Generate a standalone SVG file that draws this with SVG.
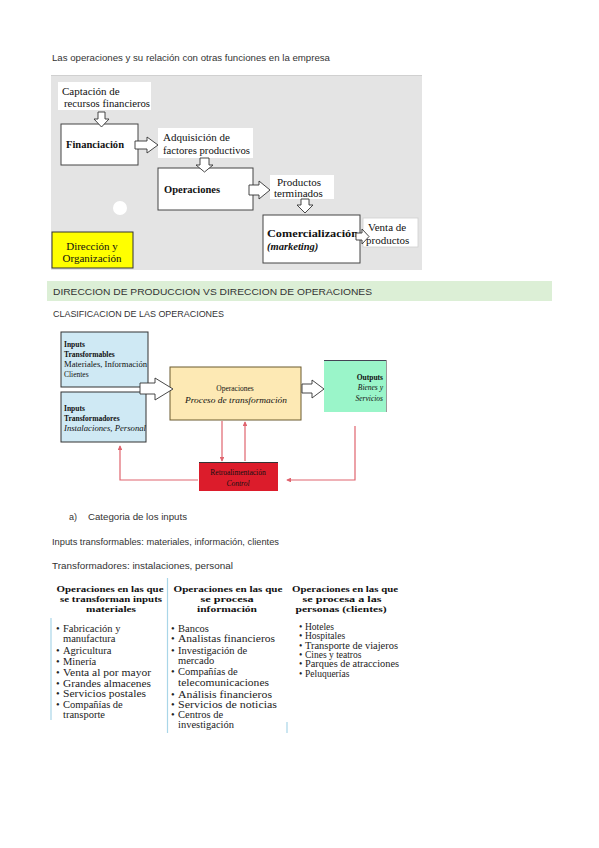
<svg xmlns="http://www.w3.org/2000/svg" width="599" height="848" viewBox="0 0 599 848">
<style>
.doc{font-family:"Liberation Sans","DejaVu Sans",sans-serif;font-size:9px;fill:#333}
.sf{font-family:"Liberation Serif","DejaVu Serif",serif;fill:#111}
.d1{font-size:11px}
.b{font-weight:bold}
.i{font-style:italic}
.wb{fill:#fff;stroke:#444;stroke-width:1}
.wn{fill:#fff}
.ha{fill:#fff;stroke:#333;stroke-width:0.9}
.d2{font-size:7.5px}
.red{fill:none;stroke:#e0646e;stroke-width:1.2}
.tb{font-size:10.5px;fill:#222}
.th{font-size:9px;font-weight:bold;fill:#111}
.t3{font-size:9.5px;fill:#222}
.bl{stroke:#a9d6e8;stroke-width:1.2}
</style>
<defs>
<marker id="ah" viewBox="0 0 6 6" refX="5" refY="3" markerWidth="4" markerHeight="4" orient="auto"><path d="M0,0 L6,3 L0,6 z" fill="#e0646e"/></marker>
</defs>
<rect width="599" height="848" fill="#fff"/>

<text class="doc" x="52" y="61" textLength="278" lengthAdjust="spacingAndGlyphs">Las operaciones y su relación con otras funciones en la empresa</text>

<!-- Diagram 1 -->
<g id="diagram1">
<rect x="51" y="75" width="371" height="195" fill="#e4e4e4"/>
<line x1="51" y1="75.5" x2="422" y2="75.5" stroke="#d0d0d0"/>
<circle cx="120" cy="208" r="7" fill="#fff"/>
</g>
<g id="n-captacion">
<rect class="wn" x="58" y="82" width="93" height="28"/>
<text class="sf d1" x="62" y="95">Captación de</text>
<text class="sf d1" x="64" y="107" textLength="86" lengthAdjust="spacingAndGlyphs">recursos financieros</text>
</g>
<g id="n-financiacion">
<rect class="wb" x="61" y="124" width="77" height="41"/>
<text class="sf b" x="66" y="148" font-size="10.5" textLength="58" lengthAdjust="spacingAndGlyphs">Financiación</text>
</g>
<g id="n-adquisicion">
<rect class="wn" x="158" y="128" width="95" height="30"/>
<text class="sf d1" x="163" y="141">Adquisición de</text>
<text class="sf d1" x="163" y="154" textLength="87" lengthAdjust="spacingAndGlyphs">factores productivos</text>
</g>
<g id="n-operaciones1">
<rect class="wb" x="158" y="168" width="95" height="42"/>
<text class="sf b" x="164" y="193" font-size="10.5" textLength="56" lengthAdjust="spacingAndGlyphs">Operaciones</text>
</g>
<g id="n-productos">
<rect class="wn" x="270" y="175" width="64" height="24"/>
<text class="sf d1" x="277" y="186">Productos</text>
<text class="sf d1" x="274" y="197">terminados</text>
</g>
<g id="n-comercializacion">
<rect class="wb" x="263" y="215" width="97" height="48"/>
<text class="sf b" x="267" y="237" font-size="10.5" textLength="91" lengthAdjust="spacingAndGlyphs">Comercialización</text>
<text class="sf b i" x="267" y="250" font-size="10.5">(marketing)</text>
</g>
<g id="n-venta">
<rect x="363" y="218" width="55" height="29" fill="#fff" stroke="#cfcfcf" stroke-width="0.8"/>
<text class="sf d1" x="368" y="231">Venta de</text>
<text class="sf d1" x="366" y="244">productos</text>
</g>
<g id="n-direccion">
<rect x="52" y="232" width="81" height="36" fill="#ffff00" stroke="#333" stroke-width="1"/>
<text class="sf d1" x="92" y="250" text-anchor="middle">Dirección y</text>
<text class="sf d1" x="92" y="262" text-anchor="middle">Organización</text>
</g>
<g id="connectors1">
<polygon class="ha" points="98,112 105,112 105,119 109,119 101.5,127 94,119 98,119"/>
<polygon class="ha" points="135,141 147,141 147,137 158,145 147,153 147,149 135,149"/>
<polygon class="ha" points="200,158 209,158 209,165 213,165 204.5,172 196,165 200,165"/>
<polygon class="ha" points="249,185 259,185 259,181 270,190 259,199 259,195 249,195"/>
<polygon class="ha" points="301,199 309,199 309,205 313,205 305,213 297,205 301,205"/>
<polygon class="ha" points="356,233 362,233 362,229 369,236.5 362,244 362,240 356,240"/>
</g>

<!-- Headings -->
<rect x="47" y="281" width="505" height="20" fill="#dcefd6"/>
<text class="doc" x="53" y="295" textLength="319" lengthAdjust="spacingAndGlyphs">DIRECCION DE PRODUCCION VS DIRECCION DE OPERACIONES</text>
<text class="doc" x="53" y="317" textLength="171" lengthAdjust="spacingAndGlyphs">CLASIFICACION DE LAS OPERACIONES</text>

<!-- Diagram 2 -->
<g id="n-inputs-transformables">
<rect x="61" y="332" width="87" height="55" fill="#cfe9f4" stroke="#333" stroke-width="1"/>
<text class="sf d2 b" x="64" y="347">Inputs</text>
<text class="sf d2 b" x="64" y="357">Transformables</text>
<text class="sf d2" x="64" y="367" fill="#444" textLength="83" lengthAdjust="spacingAndGlyphs">Materiales, Información</text>
<text class="sf d2" x="64" y="377" fill="#444">Clientes</text>
</g>
<g id="n-inputs-transformadores">
<rect x="61" y="392" width="85" height="50" fill="#cfe9f4" stroke="#333" stroke-width="1"/>
<text class="sf d2 b" x="64" y="411">Inputs</text>
<text class="sf d2 b" x="64" y="421">Transformadores</text>
<text class="sf d2 i" x="64" y="431" textLength="82" lengthAdjust="spacingAndGlyphs">Instalaciones, Personal</text>
</g>
<g id="n-operaciones2">
<rect x="170" y="367" width="131" height="53" fill="#fde9b4" stroke="#6b5a2e" stroke-width="1"/>
<text class="sf d2" x="235" y="391" text-anchor="middle">Operaciones</text>
<text class="sf d2 i" x="236" y="403" text-anchor="middle" textLength="102" lengthAdjust="spacingAndGlyphs">Proceso de transformación</text>
</g>
<g id="n-outputs">
<rect x="324" y="360" width="63" height="52" fill="#9af5c9"/>
<line x1="324" y1="360.5" x2="387" y2="360.5" stroke="#445" stroke-width="1"/>
<line x1="386.5" y1="360" x2="386.5" y2="412" stroke="#999" stroke-width="1"/>
<text class="sf d2 b" x="383" y="380" text-anchor="end">Outputs</text>
<text class="sf d2 i" x="383" y="390" text-anchor="end">Bienes y</text>
<text class="sf d2 i" x="383" y="401" text-anchor="end">Servicios</text>
</g>
<g id="n-retro">
<rect x="199" y="462" width="79" height="29" fill="#dc1c2b"/>
<line x1="199" y1="462.5" x2="278" y2="462.5" stroke="#333" stroke-width="1"/>
<text class="sf d2" x="238" y="475" text-anchor="middle" fill="#f6d6d6">Retroalimentación</text>
<text class="sf d2 i" x="238" y="486" text-anchor="middle" fill="#f6d6d6">Control</text>
</g>
<g id="connectors2">
<polygon class="ha" points="140,383 155,383 155,378 173,389 155,400 155,394 140,394"/>
<polygon class="ha" points="302,384 312,384 312,380 324,389 312,398 312,393 302,393"/>
<line class="red" x1="222" y1="421" x2="222" y2="461" marker-end="url(#ah)"/>
<line class="red" x1="245" y1="461" x2="245" y2="422" marker-end="url(#ah)"/>
<polyline class="red" points="198,480 120,480 120,446" marker-end="url(#ah)"/>
<polyline class="red" points="355,426 355,480 287,480" marker-end="url(#ah)"/>
</g>

<!-- Text lines -->
<text class="doc" x="69" y="520">a)</text>
<text class="doc" x="88" y="520" textLength="99" lengthAdjust="spacingAndGlyphs">Categoria de los inputs</text>
<text class="doc" x="52" y="545" textLength="227" lengthAdjust="spacingAndGlyphs">Inputs transformables: materiales, información, clientes</text>
<text class="doc" x="52" y="569" textLength="181" lengthAdjust="spacingAndGlyphs">Transformadores: instalaciones, personal</text>

<!-- Table -->
<g id="table">
<line class="bl" x1="51" y1="618" x2="51" y2="720"/>
<line class="bl" x1="167.5" y1="578" x2="167.5" y2="733"/>
<line class="bl" x1="287" y1="722" x2="287" y2="733"/>

<text class="sf th" x="110" y="592" text-anchor="middle" textLength="107" lengthAdjust="spacingAndGlyphs">Operaciones en las que</text>
<text class="sf th" x="111" y="602" text-anchor="middle" textLength="102" lengthAdjust="spacingAndGlyphs">se transforman  inputs</text>
<text class="sf th" x="111" y="612" text-anchor="middle" textLength="50" lengthAdjust="spacingAndGlyphs">materiales</text>

<text class="sf th" x="228" y="592" text-anchor="middle" textLength="109" lengthAdjust="spacingAndGlyphs">Operaciones en las que</text>
<text class="sf th" x="227" y="602" text-anchor="middle" textLength="53" lengthAdjust="spacingAndGlyphs">se procesa</text>
<text class="sf th" x="227" y="612" text-anchor="middle" textLength="60" lengthAdjust="spacingAndGlyphs">información</text>

<text class="sf th" x="345" y="592" text-anchor="middle" textLength="106" lengthAdjust="spacingAndGlyphs">Operaciones en las que</text>
<text class="sf th" x="342" y="602" text-anchor="middle" textLength="79" lengthAdjust="spacingAndGlyphs">se procesa a las</text>
<text class="sf th" x="341" y="612" text-anchor="middle" textLength="91" lengthAdjust="spacingAndGlyphs">personas (clientes)</text>

<g class="sf tb">
<text x="56" y="632">•</text><text x="63" y="632">Fabricación y</text>
<text x="63" y="642">manufactura</text>
<text x="56" y="654">•</text><text x="63" y="654">Agricultura</text>
<text x="56" y="665">•</text><text x="63" y="665">Minería</text>
<text x="56" y="676">•</text><text x="63" y="676" textLength="88" lengthAdjust="spacingAndGlyphs">Venta al por mayor</text>
<text x="56" y="687">•</text><text x="63" y="687" textLength="88" lengthAdjust="spacingAndGlyphs">Grandes almacenes</text>
<text x="56" y="697">•</text><text x="63" y="697" textLength="83" lengthAdjust="spacingAndGlyphs">Servicios postales</text>
<text x="56" y="708">•</text><text x="63" y="708">Compañías de</text>
<text x="63" y="718">transporte</text>

<text x="171" y="632">•</text><text x="178" y="632">Bancos</text>
<text x="171" y="642">•</text><text x="178" y="642" textLength="97" lengthAdjust="spacingAndGlyphs">Analistas financieros</text>
<text x="171" y="654">•</text><text x="178" y="654">Investigación de</text>
<text x="178" y="664">mercado</text>
<text x="171" y="675">•</text><text x="178" y="675">Compañías de</text>
<text x="178" y="686" textLength="91" lengthAdjust="spacingAndGlyphs">telecomunicaciones</text>
<text x="171" y="698">•</text><text x="178" y="698" textLength="94" lengthAdjust="spacingAndGlyphs">Análisis financieros</text>
<text x="171" y="708">•</text><text x="178" y="708" textLength="99" lengthAdjust="spacingAndGlyphs">Servicios de noticias</text>
<text x="171" y="718">•</text><text x="178" y="718">Centros de</text>
<text x="178" y="728">investigación</text>
</g>
<g class="sf t3">
<text x="299" y="630">•</text><text x="305" y="630">Hoteles</text>
<text x="299" y="639">•</text><text x="305" y="639">Hospitales</text>
<text x="299" y="649">•</text><text x="305" y="649" textLength="93" lengthAdjust="spacingAndGlyphs">Transporte de viajeros</text>
<text x="299" y="658">•</text><text x="305" y="658">Cines y teatros</text>
<text x="299" y="667">•</text><text x="305" y="667" textLength="94" lengthAdjust="spacingAndGlyphs">Parques de atracciones</text>
<text x="299" y="677">•</text><text x="305" y="677">Peluquerías</text>
</g>
</g>
</svg>
